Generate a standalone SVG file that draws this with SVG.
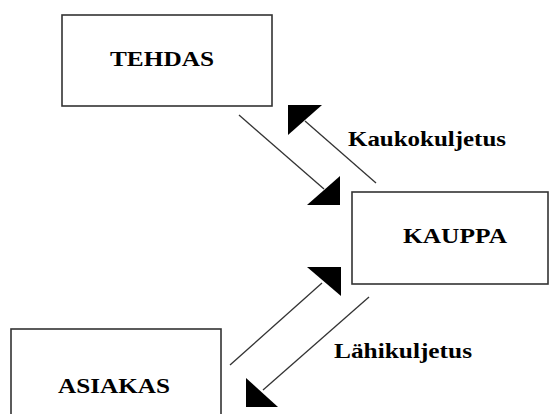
<svg xmlns="http://www.w3.org/2000/svg" width="550" height="414" viewBox="0 0 550 414">
<style>
.box{fill:#fff;stroke:#333;stroke-width:1.6}
.lbl{font-family:"Liberation Serif","Times New Roman",serif;font-weight:bold;font-size:21px;fill:#000}
.ln{stroke:#333;stroke-width:1.3;fill:none}
.ah{fill:#000;stroke:none}
</style>
<rect width="550" height="414" fill="#fff"/>
<g id="tehdas">
<rect class="box" x="62" y="15" width="210" height="91"/>
<text class="lbl" x="110" y="66" textLength="104" lengthAdjust="spacingAndGlyphs">TEHDAS</text>
</g>
<g id="kauppa">
<rect class="box" x="352" y="192" width="196" height="92"/>
<text class="lbl" x="403" y="243" textLength="104" lengthAdjust="spacingAndGlyphs">KAUPPA</text>
</g>
<g id="asiakas">
<rect class="box" x="11" y="329" width="210" height="95"/>
<text class="lbl" x="58" y="393" textLength="112" lengthAdjust="spacingAndGlyphs">ASIAKAS</text>
</g>
<g id="connectors">
<path class="ln" d="M239 115 L324 189"/>
<polygon class="ah" points="340,176 340,205 307,205"/>
<path class="ln" d="M376 183 L305 121"/>
<polygon class="ah" points="288,105 322,105 288,135"/>
<path class="ln" d="M230 365 L322 283"/>
<polygon class="ah" points="307,267 341,267 341,296"/>
<path class="ln" d="M369 297 L263 390"/>
<polygon class="ah" points="246,378 246,407 278,407"/>
<text class="lbl" x="348" y="146" textLength="158" lengthAdjust="spacingAndGlyphs">Kaukokuljetus</text>
<text class="lbl" x="334" y="358" textLength="138" lengthAdjust="spacingAndGlyphs">Lähikuljetus</text>
</g>
</svg>
